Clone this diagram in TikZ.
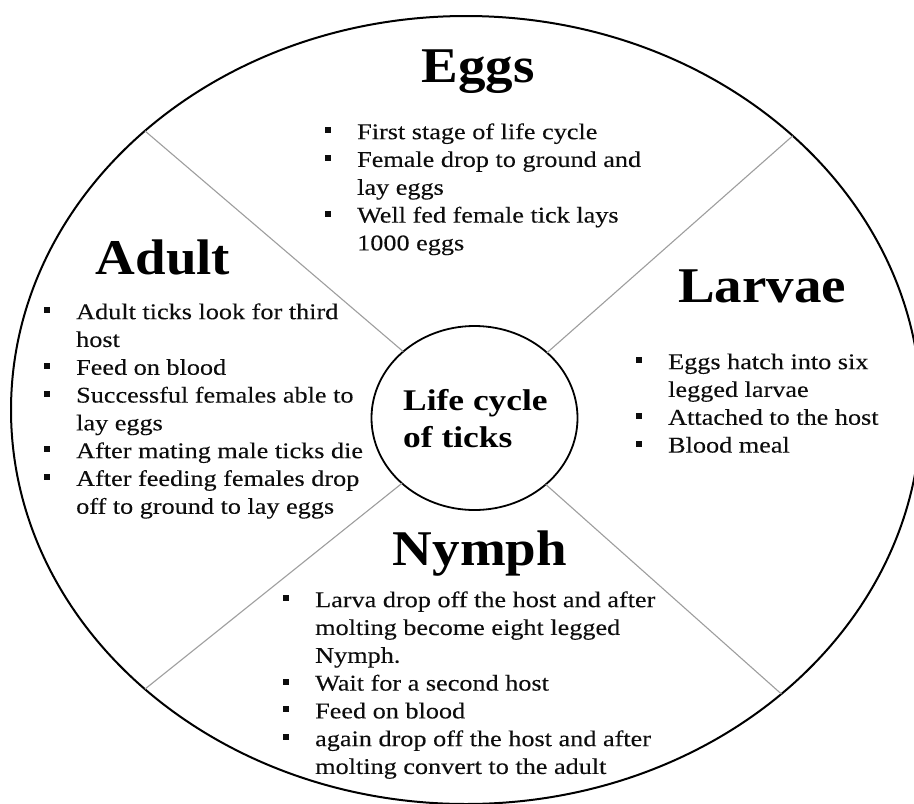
\documentclass[tikz,border=0pt]{standalone}
\usepackage{fontspec}
\setmainfont{Liberation Serif}
\newfontfamily\ttlfont{Liberation Serif}[FakeStretch=1.1]
\newfontfamily\bodyfont{Liberation Serif}[FakeStretch=1.165,FakeBold=0.15,Ligatures=CommonOff]
\newfontfamily\hubfont{Liberation Serif}[FakeStretch=1.18]
\usetikzlibrary{shapes.geometric}
\newcommand\bul{\llap{\rule[6pt]{6pt}{6pt}\hspace{26pt}}}
\begin{document}
\begin{tikzpicture}[x=1pt,y=-1pt,
  ttl/.style={font={\ttlfont\bfseries\fontsize{50}{60}\selectfont}, inner sep=0pt, anchor=base},
  body/.style={font={\bodyfont\fontsize{22.5}{27.8}\selectfont}, text=black!95, align=left, inner sep=0pt, anchor=north west},
  hubtxt/.style={font={\hubfont\bfseries\fontsize{30}{37}\selectfont}, align=left, inner sep=0pt, anchor=north west},
  divider/.style={draw=black!38, line width=1.1pt},
  ring/.style={ellipse, draw=black, inner sep=0pt, outer sep=0pt}]
\useasboundingbox (0,0) rectangle (914,804);
\clip (0,0) rectangle (914,804);
\fill[white] (0,0) rectangle (914,804);
% outer and inner ellipses
\node[ring, line width=2pt, minimum width=910pt, minimum height=788pt] (rim) at (466,410) {};
\node[ring, line width=1.8pt, minimum width=206pt, minimum height=184pt] (hub) at (474.5,418) {};
% dividers
\draw[divider] (hub.137.6) -- (rim.139.1);
\draw[divider] (hub.42.8) -- (rim.40.8);
\draw[divider] (hub.222.8) -- (rim.221.4);
\draw[divider] (hub.317.2) -- (rim.318.7);
% centre text
\node[hubtxt] (hubtext) at (403,384.1) {\strut Life cycle\\of ticks};
% titles
\node[ttl] (eggsT) at (478,82) {Eggs};
\node[ttl] (larvaeT) at (762,302) {Larvae};
\node[ttl] (adultT) at (163,274) {Adult};
\node[ttl] (nymphT) at (480,565) {Nymph};
% bullet texts
\node[body] (eggsB) at (357,119.5) {\strut\bul First stage of life cycle\\
\bul Female drop to ground and\\
lay eggs\\
\bul Well fed female tick lays\\
1000 eggs};
\node[body] (larvaeB) at (668,349.5) {\strut\bul Eggs hatch into six\\
legged larvae\\
\bul Attached to the host\\
\bul Blood meal};
\node[body] (adultB) at (76,299.5) {\strut\bul Adult ticks look for third\\
host\\
\bul Feed on blood\\
\bul Successful females able to\\
lay eggs\\
\bul After mating male ticks die\\
\bul After feeding females drop\\
off to ground to lay eggs};
\node[body] (nymphB) at (315,587.5) {\strut\bul Larva drop off the host and after\\
molting become eight legged\\
Nymph.\\
\bul Wait for a second host\\
\bul Feed on blood\\
\bul again drop off the host and after\\
molting convert to the adult};
\end{tikzpicture}
\end{document}
